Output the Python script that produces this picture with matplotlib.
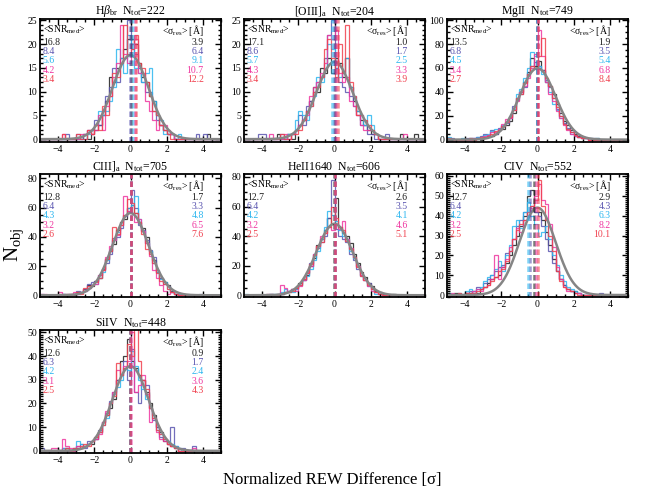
import numpy as np
import matplotlib
matplotlib.use("Agg")
import matplotlib.pyplot as plt
from matplotlib.ticker import MultipleLocator

plt.rcParams["font.family"] = ["Liberation Serif", "DejaVu Serif"]
plt.rcParams["mathtext.fontset"] = "custom"
plt.rcParams["mathtext.rm"] = "Liberation Serif"
plt.rcParams["mathtext.it"] = "Liberation Serif:italic"

# ---------------------------------------------------------------------------
# Data
# ---------------------------------------------------------------------------

bin_edges = np.linspace(-5, 5, 51)   # 0.2 sigma bins
bin_width = 0.2

series_colors = ["#1e1e1e", "#5a55b0", "#2cb6ef", "#ef36a0", "#f0404e"]

titles = [r"H$\beta_{\rm br}$  N$_{\rm tot}$=222",
          r"[OIII]$_{\rm a}$  N$_{\rm tot}$=204",
          r"MgII  N$_{\rm tot}$=749",
          r"CIII]$_{\rm a}$  N$_{\rm tot}$=705",
          r"HeII1640  N$_{\rm tot}$=606",
          r"CIV  N$_{\rm tot}$=552",
          r"SiIV  N$_{\rm tot}$=448"]
n_tot = [222, 204, 749, 705, 606, 552, 448]

snr_med = [["16.8", "8.4", "5.6", "4.2", "3.4"],
           ["17.1", "8.6", "5.7", "4.3", "3.4"],
           ["13.5", "6.8", "4.5", "3.4", "2.7"],
           ["12.8", "6.4", "4.3", "3.2", "2.6"],
           ["12.7", "6.4", "4.2", "3.2", "2.5"],
           ["12.7", "6.4", "4.2", "3.2", "2.5"],
           ["12.6", "6.3", "4.2", "3.1", "2.5"]]
sigma_res = [["3.9", "6.4", "9.1", "10.7", "12.2"],
             ["1.0", "1.7", "2.5", "3.3", "3.9"],
             ["1.9", "3.5", "5.4", "6.8", "8.4"],
             ["1.7", "3.3", "4.8", "6.5", "7.6"],
             ["2.6", "3.5", "4.1", "4.6", "5.1"],
             ["2.9", "4.3", "6.3", "8.2", "10.1"],
             ["0.9", "1.7", "2.4", "3.6", "4.3"]]

medians = [[0.00, -0.05, 0.12, 0.25, 0.28],
           [0.00, -0.05, -0.15, 0.10, 0.20],
           [-0.05, -0.05, -0.02, 0.03, 0.05],
           [0.00, 0.00, 0.02, 0.02, 0.03],
           [-0.02, 0.00, 0.00, 0.02, 0.00],
           [-0.20, -0.40, -0.50, -0.10, 0.00],
           [-0.05, -0.03, -0.02, 0.00, -0.04]]

ylims = [(-0.6, 25.3), (-0.6, 25.3), (-2, 101), (-1.2, 83),
         (-1.2, 82), (-1, 61), (-0.9, 51)]
ymajor = [5, 5, 20, 20, 20, 10, 10]
yminor = [1, 1, 5, 5, 5, 1, 1]

# counts per 0.2 bin, -5 ... 5 ; one row per SNR subset
hist_hb = [
    [0,0,0,0,0, 0,0,0,0,0, 0,0,1,0,1, 2,3,5,8,13, 12,15,17,19,21, 21,20,16,13,12, 9,8,5,3,2, 1,1,0,0,0, 0,0,0,0,0, 0,1,0,0,0],
    [0,0,0,0,0, 0,0,1,0,0, 1,0,1,2,2, 4,3,6,9,11, 15,12,16,17,25, 20,18,15,12,10, 10,6,4,3,2, 1,1,0,0,0, 0,0,0,1,0, 1,0,0,0,0],
    [0,0,0,0,0, 0,0,0,0,0, 0,0,0,1,2, 3,6,5,6,8, 11,19,17,14,22, 19,15,14,12,14, 15,8,5,4,1, 1,1,0,1,0, 0,0,0,0,0, 0,0,0,0,0],
    [0,0,0,0,0, 0,1,0,0,0, 0,1,1,2,1, 2,5,2,7,9, 13,16,24,18,16, 20,21,14,14,8, 6,4,2,3,3, 2,1,0,0,0, 0,0,0,0,0, 0,0,0,0,0],
    [0,0,0,0,0, 0,1,0,0,0, 1,0,0,2,1, 3,2,7,5,9, 14,13,16,24,18, 19,22,16,15,12, 9,6,5,3,2, 1,0,0,0,0, 0,0,0,0,0, 0,0,0,0,0],
]
hist_oiii = [
    [0,0,0,0,0, 0,0,0,0,1, 0,0,1,0,2, 3,4,6,8,11, 10,15,14,17,14, 17,16,13,17,11, 8,6,4,3,2, 1,1,0,0,0, 0,0,0,1,0, 0,0,1,0,0],
    [0,0,0,0,1, 1,0,0,0,0, 1,0,1,1,2, 5,3,7,8,10, 12,13,17,22,25, 15,12,11,10,9, 7,5,3,3,1, 1,0,0,0,1, 0,0,0,0,0, 0,0,0,0,0],
    [0,0,0,0,0, 0,0,0,0,0, 0,0,1,1,4, 6,5,4,7,9, 13,12,15,20,19, 16,13,14,17,11, 9,6,5,3,5, 3,1,0,0,0, 0,0,0,0,0, 0,0,0,0,0],
    [0,0,0,0,0, 0,0,1,0,0, 0,1,0,1,2, 3,4,5,9,11, 12,14,16,22,21, 23,14,12,13,8, 7,5,3,2,2, 2,1,0,0,0, 0,0,0,0,1, 0,0,0,0,0],
    [0,0,0,0,0, 0,0,0,0,0, 1,0,0,1,1, 2,4,6,7,10, 11,13,19,21,17, 13,20,14,24,12, 9,5,5,4,3, 2,1,0,0,0, 0,0,0,0,0, 0,0,0,0,0],
]
hist_mgii = [
    [0,0,0,0,0, 0,1,0,1,0, 2,3,3,5,8, 9,12,16,22,35, 40,48,57,68,62, 66,58,48,45,38, 30,22,16,12,8, 5,3,2,1,1, 0,1,0,0,0, 0,0,0,0,0],
    [0,1,0,0,0, 1,0,1,2,3, 5,4,8,5,10, 11,14,18,28,33, 38,44,55,62,65, 62,58,50,44,35, 26,20,14,10,6, 4,2,1,1,0, 1,0,0,0,0, 0,0,0,0,0],
    [2,0,0,0,1, 0,1,1,2,1, 4,5,7,9,8, 12,15,20,26,38, 42,52,60,73,70, 62,55,48,40,30, 25,18,13,9,5, 3,2,1,1,1, 0,1,0,0,0, 0,0,0,0,0],
    [0,0,0,0,0, 0,0,1,1,1, 3,4,6,6,9, 13,17,18,25,32, 40,45,52,60,72, 92,70,48,38,32, 24,18,12,8,5, 3,2,1,1,0, 0,0,0,0,0, 0,0,0,0,0],
    [1,0,0,0,0, 0,1,0,1,2, 2,3,5,7,8, 11,15,19,25,35, 38,47,55,62,60, 70,85,52,45,35, 27,20,13,9,6, 4,2,1,1,0, 0,0,0,0,0, 0,0,0,0,0],
]
hist_ciii = [
    [0,0,0,0,0, 0,1,0,1,0, 2,2,4,7,6, 10,12,18,25,30, 35,45,50,52,60, 62,56,50,46,40, 30,24,16,12,9, 7,3,1,0,0, 0,0,0,0,0, 0,0,0,0,0],
    [1,0,0,0,0, 0,1,1,0,1, 3,2,4,8,9, 10,14,18,22,28, 39,40,46,54,58, 72,60,48,45,38, 31,26,17,12,8, 6,2,1,0,0, 0,0,0,0,1, 0,0,0,0,0],
    [0,0,0,0,0, 0,1,0,0,1, 1,2,3,5,7, 8,12,16,24,31, 38,43,48,55,60, 62,68,52,44,36, 30,22,16,11,9, 4,2,1,1,0, 0,0,0,0,0, 0,0,0,0,0],
    [1,1,0,0,0, 2,0,0,1,2, 1,2,3,5,7, 8,14,17,26,34, 38,41,48,68,58, 56,50,52,44,36, 27,17,12,7,3, 1,2,1,0,0, 0,0,0,0,0, 0,0,0,0,0],
    [0,0,0,0,0, 1,0,1,0,1, 2,1,5,6,7, 9,12,17,25,30, 47,42,48,55,66, 63,56,50,42,32, 28,22,15,10,8, 4,2,1,0,0, 0,0,0,0,0, 0,0,0,0,0],
]
hist_heii = [
    [0,0,0,0,0, 0,0,1,0,0, 1,2,2,4,5, 8,10,14,20,25, 34,38,44,52,48, 66,46,42,40,35, 28,22,16,12,8, 6,3,2,1,0, 0,1,0,0,0, 0,0,0,0,0],
    [0,0,0,0,0, 0,1,0,0,1, 1,2,3,4,4, 7,11,15,22,28, 32,36,40,52,78, 45,40,38,36,28, 24,18,14,10,8, 4,2,1,0,0, 0,0,0,0,0, 0,0,0,0,0],
    [1,0,0,0,0, 0,0,1,1,0, 2,4,3,2,4, 7,10,13,18,24, 30,38,46,57,54, 50,44,40,38,30, 25,20,13,10,6, 4,1,1,0,0, 0,0,0,0,0, 0,0,0,0,0],
    [0,0,0,0,0, 0,0,1,0,1, 7,5,3,4,3, 6,10,16,20,28, 33,40,42,46,44, 48,45,50,38,32, 26,20,14,10,6, 3,2,1,0,0, 0,0,0,0,0, 0,0,0,0,0],
    [0,0,0,0,0, 0,1,0,0,0, 1,2,2,3,5, 7,11,15,21,27, 33,36,42,46,60, 52,46,44,37,31, 26,19,13,10,7, 4,2,1,0,0, 0,0,0,0,0, 0,0,0,0,0],
]
hist_civ = [
    [0,0,1,0,0, 1,1,2,1,3, 4,6,8,9,10, 14,16,20,25,30, 35,40,50,53,42, 42,38,32,25,18, 12,8,5,3,2, 2,1,0,0,0, 0,0,0,0,0, 0,0,0,0,0],
    [0,0,0,1,0, 1,2,1,4,3, 6,8,10,12,14, 15,21,22,28,35, 38,42,40,45,42, 40,35,28,22,16, 12,8,5,3,2, 1,1,0,0,0, 0,0,1,0,0, 0,0,0,0,0],
    [1,0,0,0,0, 2,3,2,3,4, 7,9,10,13,17, 12,20,25,35,38, 34,42,47,40,36, 30,32,35,28,20, 15,10,7,4,3, 2,1,0,0,0, 0,0,0,0,0, 0,0,0,0,0],
    [0,1,0,0,0, 1,0,2,3,2, 4,5,8,20,8, 14,18,24,28,34, 32,38,40,44,50, 56,48,46,36,24, 14,8,4,2,2, 1,1,0,0,0, 0,0,0,0,0, 0,0,0,0,0],
    [0,0,0,1,0, 1,1,1,2,3, 4,5,7,9,12, 13,17,22,28,33, 36,38,42,45,48, 58,45,38,30,22, 12,7,4,3,2, 1,0,0,0,0, 0,0,0,0,0, 0,0,0,0,0],
]
hist_siiv = [
    [0,0,0,0,0, 0,0,1,0,0, 1,1,2,3,3, 5,8,12,15,18, 22,30,38,40,47, 38,35,32,30,25, 20,15,10,8,4, 3,2,1,0,0, 0,0,0,0,0, 0,0,0,0,0],
    [1,0,0,0,0, 0,1,0,0,1, 2,3,1,4,4, 5,9,12,16,21, 25,30,32,38,30, 43,25,20,30,28, 18,13,10,6,5, 3,10,2,1,1, 0,0,2,0,0, 0,0,0,0,0],
    [0,0,0,0,0, 0,1,1,0,1, 4,3,2,3,4, 6,8,11,14,20, 24,27,30,35,34, 42,36,30,26,22, 18,14,9,7,5, 4,3,2,1,0, 0,0,0,0,0, 0,0,0,0,0],
    [0,0,0,1,1, 0,5,2,1,0, 2,1,2,3,4, 5,7,12,17,20, 25,34,32,36,38, 50,25,28,32,24, 12,14,8,5,4, 3,2,1,0,0, 0,0,1,0,0, 0,0,0,0,0],
    [0,0,0,0,0, 0,0,1,0,1, 1,2,3,2,4, 6,8,11,15,20, 23,37,32,35,45, 40,52,38,30,26, 18,14,9,7,5, 3,2,1,0,0, 0,0,0,0,0, 0,0,0,0,0],
]
all_hists = [hist_hb, hist_oiii, hist_mgii, hist_ciii, hist_heii, hist_civ, hist_siiv]

# ---------------------------------------------------------------------------
# Layout (pixel boxes of the 3x3 grid in a 664x490 figure)
# ---------------------------------------------------------------------------

W, H = 664, 490
col_left = [40, 244, 447]
row_top = [19, 174, 330]
ax_w, ax_h = 181, 123


def style_axis(ax, i):
    ax.set_xlim(-5, 5)
    ax.set_ylim(*ylims[i])
    ax.xaxis.set_major_locator(MultipleLocator(2))
    ax.xaxis.set_minor_locator(MultipleLocator(0.5))
    ax.yaxis.set_major_locator(MultipleLocator(ymajor[i]))
    ax.yaxis.set_minor_locator(MultipleLocator(yminor[i]))
    ax.tick_params(which="both", direction="in", top=True, right=True,
                   width=1.0, labelsize=7, pad=2)
    ax.tick_params(which="major", length=4.5)
    ax.tick_params(which="minor", length=2.2)
    for s in ax.spines.values():
        s.set_linewidth(1.3)


fig = plt.figure(figsize=(W / 100, H / 100), dpi=100)

x_fine = np.linspace(-5, 5, 400)
for i in range(7):
    r, c = divmod(i, 3)
    rect = [col_left[c] / W, 1 - (row_top[r] + ax_h) / H, ax_w / W, ax_h / H]
    ax = fig.add_axes(rect)

    for k, counts in enumerate(all_hists[i]):
        ax.stairs(counts, bin_edges, color=series_colors[k], lw=0.9, alpha=0.85)

    amp = n_tot[i] * bin_width / np.sqrt(2 * np.pi)
    ax.plot(x_fine, amp * np.exp(-0.5 * x_fine ** 2), color="#858585", lw=1.8)

    for k, m in enumerate(medians[i]):
        ax.axvline(m, color=series_colors[k], lw=1.8, alpha=0.6,
                   linestyle=(0, (2.2, 1.2)))

    ax.set_title(titles[i], fontsize=8.5, pad=2)

    ax.text(0.015, 0.91, r"<SNR$_{\rm med}$>", transform=ax.transAxes,
            fontsize=7, ha="left", va="center")
    ax.text(0.905, 0.91, r"<σ$_{\rm res}$> [Å]", transform=ax.transAxes,
            fontsize=7, ha="right", va="center")
    for k in range(5):
        y = 0.812 - 0.0765 * k
        ax.text(0.015, y, snr_med[i][k], transform=ax.transAxes, fontsize=7,
                ha="left", va="center", color=series_colors[k])
        ax.text(0.905, y, sigma_res[i][k], transform=ax.transAxes, fontsize=7,
                ha="right", va="center", color=series_colors[k])

    style_axis(ax, i)

fig.text(0.5, 0.02, "Normalized REW Difference [σ]", ha="center", va="center",
         fontsize=12)
fig.text(0.022, 0.5, r"N$_{\rm obj}$", ha="center", va="center",
         rotation=90, fontsize=15)

fig.savefig("out.png", dpi=100)
